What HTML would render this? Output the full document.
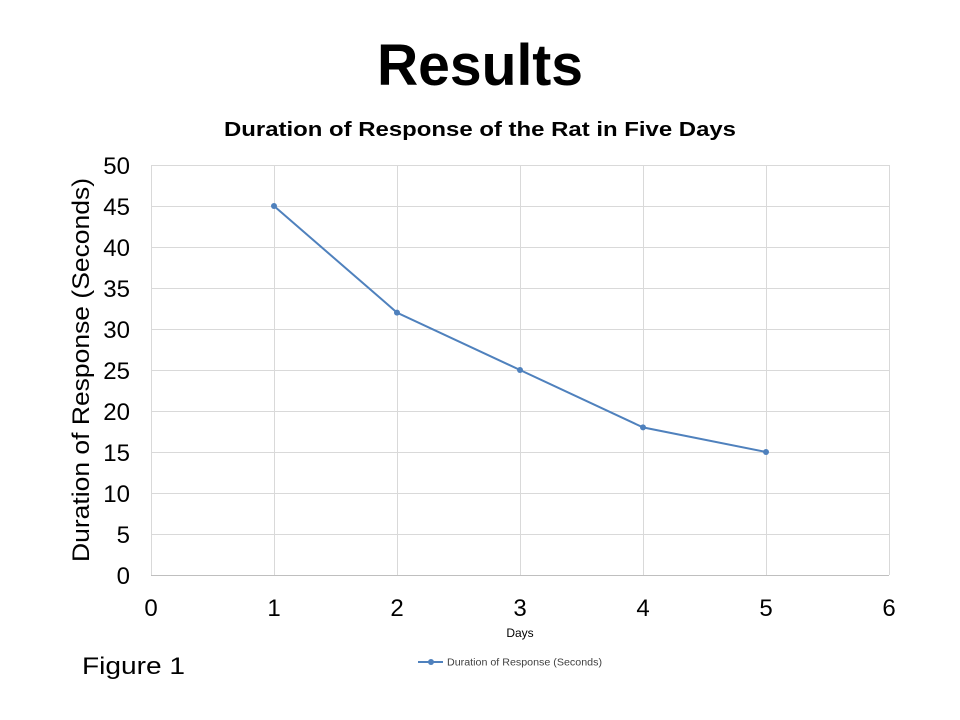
<!DOCTYPE html>
<html><head><meta charset="utf-8"><style>html,body{margin:0;padding:0;background:#fff;}svg{display:block}</style></head>
<body>
<svg width="960" height="720" xmlns="http://www.w3.org/2000/svg" font-family="Liberation Sans, Arial, sans-serif">
<rect width="960" height="720" fill="#fff"/>
<text x="480" y="85" text-anchor="middle" font-size="58" font-weight="bold" fill="#000" textLength="206" lengthAdjust="spacingAndGlyphs">Results</text>
<text x="480" y="136" text-anchor="middle" font-size="20" font-weight="bold" fill="#000" textLength="512" lengthAdjust="spacingAndGlyphs">Duration of Response of the Rat in Five Days</text>
<g stroke="#d9d9d9" stroke-width="1">
<line x1="151" y1="165.5" x2="889" y2="165.5"/><line x1="151" y1="206.5" x2="889" y2="206.5"/>
<line x1="151" y1="247.5" x2="889" y2="247.5"/><line x1="151" y1="288.5" x2="889" y2="288.5"/>
<line x1="151" y1="329.5" x2="889" y2="329.5"/><line x1="151" y1="370.5" x2="889" y2="370.5"/>
<line x1="151" y1="411.5" x2="889" y2="411.5"/><line x1="151" y1="452.5" x2="889" y2="452.5"/>
<line x1="151" y1="493.5" x2="889" y2="493.5"/><line x1="151" y1="534.5" x2="889" y2="534.5"/>
<line x1="151.5" y1="165" x2="151.5" y2="575"/><line x1="274.5" y1="165" x2="274.5" y2="575"/>
<line x1="397.5" y1="165" x2="397.5" y2="575"/><line x1="520.5" y1="165" x2="520.5" y2="575"/>
<line x1="643.5" y1="165" x2="643.5" y2="575"/><line x1="766.5" y1="165" x2="766.5" y2="575"/>
<line x1="889.5" y1="165" x2="889.5" y2="575"/>
</g>
<line x1="151" y1="575.5" x2="889" y2="575.5" stroke="#bfbfbf"/>
<g font-size="24" fill="#000" text-anchor="end">
<text x="130" y="174">50</text><text x="130" y="215">45</text><text x="130" y="256">40</text><text x="130" y="297">35</text><text x="130" y="338">30</text><text x="130" y="379">25</text><text x="130" y="420">20</text><text x="130" y="461">15</text><text x="130" y="502">10</text><text x="130" y="543">5</text><text x="130" y="584">0</text>
</g>
<g font-size="24" fill="#000" text-anchor="middle">
<text x="151" y="616">0</text><text x="274" y="616">1</text><text x="397" y="616">2</text><text x="520" y="616">3</text><text x="643" y="616">4</text><text x="766" y="616">5</text><text x="889" y="616">6</text>
</g>
<text transform="translate(89,370) rotate(-90)" text-anchor="middle" font-size="24" fill="#000" textLength="384" lengthAdjust="spacingAndGlyphs">Duration of Response (Seconds)</text>
<text x="520" y="637" text-anchor="middle" font-size="12" fill="#000">Days</text>
<polyline points="274,206 397,312.6 520,370 643,427.4 766,452" fill="none" stroke="#4f81bd" stroke-width="2"/>
<g fill="#4f81bd"><circle cx="274" cy="206" r="3"/><circle cx="397" cy="312.6" r="3"/><circle cx="520" cy="370" r="3"/><circle cx="643" cy="427.4" r="3"/><circle cx="766" cy="452" r="3"/></g>
<line x1="418" y1="662" x2="443" y2="662" stroke="#4f81bd" stroke-width="2"/><circle cx="431" cy="662" r="3" fill="#4f81bd"/>
<text x="447" y="665.5" font-size="10" fill="#404040" textLength="155" lengthAdjust="spacingAndGlyphs">Duration of Response (Seconds)</text>
<text x="82" y="674" font-size="24" fill="#000" textLength="103" lengthAdjust="spacingAndGlyphs">Figure 1</text>
</svg>
</body></html>
